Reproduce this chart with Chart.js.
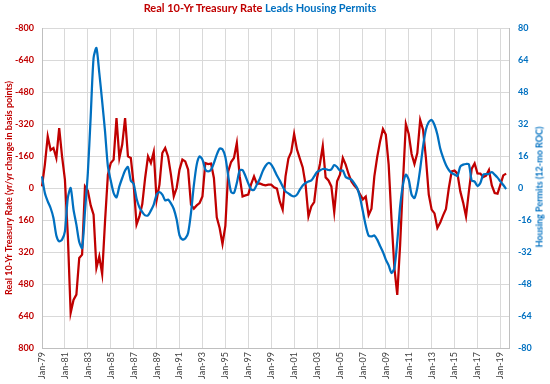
<!DOCTYPE html>
<html>
<head>
<meta charset="utf-8">
<script src="https://cdn.jsdelivr.net/npm/chart.js@4"></script>
<style>
  html, body { margin: 0; padding: 0; background: #fff; }
  #wrap { position: relative; width: 550px; height: 384px; }
  #title { position: absolute; left: 0; top: 1px; width: 520px; text-align: center; font: bold 11px Lato, sans-serif; }
  #rtitle { position: absolute; left: 539px; top: 187px; transform: translate(-50%, -50%) rotate(-90deg); white-space: nowrap; font: bold 9px Lato, sans-serif; color: #0070C0; }
  .red { color: #C00000; }
  .blue { color: #0070C0; }
</style>
</head>
<body>
<div id="wrap">
  <canvas id="chart" width="550" height="384"></canvas>
  <div id="title"><span class="red">Real 10-Yr Treasury Rate</span> <span class="blue">Leads Housing Permits</span></div>
  <div id="rtitle">Housing Permits (12-mo ROC)</div>
</div>
<script>
// quarterly readings, Jan-79 .. Jul-19
const startYear = 1979;
const endYear = 2019;
const monthNames = ["Jan", "Apr", "Jul", "Oct"];

// real 10-yr treasury rate, yr/yr change in basis points (left axis, reversed)
const treasuryChange = [
  -8, -117, -258, -190, -200, -150, -300, -158,
  -42, 233, 625, 560, 533, 350, 333, -8,
  13, 87, 133, 400, 342, 430, 167, -67,
  -125, -142, -350, -150, -217, -350, -158, -150,
  -17, 183, 142, 80, -50, -158, -125, -180,
  60, -17, -175, -200, -158, -67, 42, 0,
  -92, -142, -133, -92, 83, 103, 87, 75,
  42, -125, -120, -122, -50, 147, 200, 280,
  190, -83, -130, -150, -225, -58, 42, 37,
  33, -20, -58, -20, -23, -17, -13, -17,
  -17, -3, 3, 67, 108, -58, -147, -180,
  -270, -192, -147, -103, -17, 142, 92, 70,
  -50, -120, -210, -53, -38, -8, 120, -33,
  -67, -150, -117, -70, -33, -12, 3, 32,
  57, 43, 135, 103, -58, -155, -233, -295,
  -267, -117, 158, 400, 535, 283, -33, -320,
  -270, -170, -120, -175, -340, -292, -150, 33,
  108, 127, 200, 173, 137, 105, 0, -83,
  -87, -72, 17, 73, 142, 17, -97, -123,
  -73, -72, -55, -62, -90, -13, 25, 28,
  -17, -63, -72
];

// housing permits, 12-mo rate of change % (right axis)
const permitsRoc = [
  5.8, -2.5, -6.7, -10, -15, -23.7, -26.7, -25.8,
  -21.7, -5, 0, -10.8, -18.3, -27, -30, -11.7,
  7.5, 35.8, 65, 70, 57.5, 43.3, 28.3, 10.8,
  3.7, -2.5, -4.7, 0.8, 5, 8.7, 10.5, 3.7,
  2, -5.3, -9.7, -12, -13.7, -13.7, -11.3, -8.3,
  -3.3, -2, -3.3, -6.2, -5.8, -7.7, -10.5, -15.8,
  -23.7, -25.8, -25.3, -22.5, -12.5, 1.3, 11.7, 15.8,
  14.2, 9.3, 8.3, 9.2, 12.5, 16.7, 19.7, 19.3,
  15.5, 6, -2, -2.5, 2.5, 8.8, 9, 6,
  2.3, -0.8, -1, 1.8, 4.5, 8.3, 11, 12.5,
  11.8, 9.3, 6.2, 3.7, 0.8, -1.7, -2.7, -3.7,
  -4.2, -3.3, -0.8, 1.3, 2.5, 3.3, 3.8, 5.8,
  8, 8.8, 9.5, 9.5, 9, 9.3, 11.5, 10.5,
  8.7, 8.7, 5.5, 4.8, 4.2, 2.3, 0, -4.7,
  -11.7, -18.8, -23.8, -24.2, -23.7, -25.8, -29, -32,
  -35.8, -38.7, -42.5, -40, -26.7, -9.2, 1.7, 6.7,
  4.2, -3.3, -5, 0, 9.5, 20.8, 29.2, 33,
  34, 31.5, 26.7, 19.8, 15.2, 11.5, 9, 7.5,
  6.7, 6, 10.8, 11.7, 12, 11.8, 3.7, 3.2,
  1, 2.5, 6.7, 7, 7, 8, 6.7, 5.2,
  3.3, 1.5, -0.5
];

const leftTicks = { min: -800, max: 800, step: 160 };
const rightTicks = { min: -80, max: 80, step: 16 };

const labels = [];
for (let y = startYear; y <= endYear; y++) {
  monthNames.forEach(m => labels.push(m + "-" + String(y).slice(2)));
}

const red = "#C00000";
const blue = "#0070C0";
const gridColor = "#D9D9D9";
const baseFont = "Lato, 'Open Sans', sans-serif";

new Chart(document.getElementById("chart"), {
  type: "line",
  data: {
    labels: labels,
    datasets: [
      {
        label: "Housing Permits",
        data: permitsRoc,
        yAxisID: "yR",
        borderColor: blue,
        borderWidth: 2.25,
        pointRadius: 0,
        tension: 0.25,
        order: 0
      },
      {
        label: "Real 10-Yr Treasury Rate",
        data: treasuryChange,
        yAxisID: "yL",
        borderColor: red,
        borderWidth: 2.25,
        pointRadius: 0,
        tension: 0,
        order: 1
      }
    ]
  },
  options: {
    responsive: false,
    animation: false,
    layout: { padding: { top: 28, left: 0, right: 0, bottom: 0 } },
    plugins: { legend: { display: false }, tooltip: { enabled: false } },
    scales: {
      x: {
        type: "category",
        offset: false,
        grid: { color: gridColor, drawTicks: false },
        border: { color: "#BFBFBF" },
        ticks: {
          autoSkip: false,
          maxRotation: 90,
          minRotation: 90,
          padding: 4,
          color: "#404040",
          font: { family: baseFont, size: 9 },
          callback: function(val, i) { return i % 8 === 0 ? labels[i] : null; }
        },
        afterFit: s => { s.height = 36; }
      },
      yL: {
        position: "left",
        reverse: true,
        min: leftTicks.min,
        max: leftTicks.max,
        grid: { color: gridColor, drawTicks: false },
        border: { color: "#BFBFBF" },
        ticks: {
          stepSize: leftTicks.step,
          padding: 8,
          color: red,
          font: { family: baseFont, size: 9, weight: "bold" }
        },
        title: {
          display: true,
          text: "Real 10-Yr Treasury Rate (yr/yr change in basis points)",
          color: red,
          font: { family: baseFont, size: 9, weight: "bold" }
        },
        afterFit: s => { s.width = 42; }
      },
      yR: {
        position: "right",
        min: rightTicks.min,
        max: rightTicks.max,
        grid: { drawOnChartArea: false, drawTicks: false },
        border: { color: "#BFBFBF" },
        ticks: {
          stepSize: rightTicks.step,
          padding: 9,
          color: blue,
          font: { family: baseFont, size: 9, weight: "bold" }
        },
        afterFit: s => { s.width = 41; }
      }
    }
  }
});
</script>
</body>
</html>
